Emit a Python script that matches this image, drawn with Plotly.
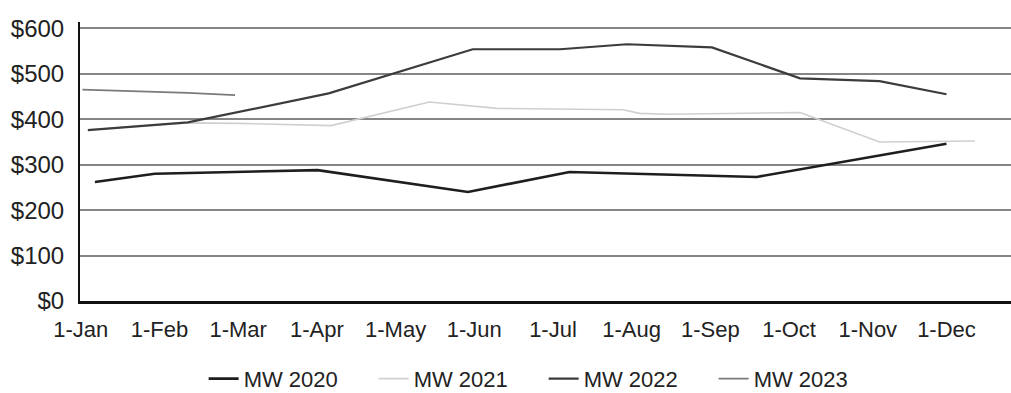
import plotly.graph_objects as go

# Month tick labels (category positions 0..11)
month_labels = ["1-Jan", "1-Feb", "1-Mar", "1-Apr", "1-May", "1-Jun",
                "1-Jul", "1-Aug", "1-Sep", "1-Oct", "1-Nov", "1-Dec"]

# Price tick values / labels
price_ticks = [0, 100, 200, 300, 400, 500, 600]
price_labels = ["$0", "$100", "$200", "$300", "$400", "$500", "$600"]

# Series: time in months since 1-Jan, price in $
mw2020_month = [0.18, 0.94, 3.01, 4.92, 6.21, 8.59, 11.0]
mw2020_price = [262, 280, 288, 240, 284, 273, 346]

mw2021_month = [0.09, 1.36, 2.0, 3.18, 4.43, 5.29, 6.89, 7.1, 7.48, 9.14, 10.15, 11.36]
mw2021_price = [377, 392, 391, 386, 438, 424, 421, 413, 411, 415, 350, 352]

mw2022_month = [0.09, 1.36, 3.15, 4.98, 6.09, 6.94, 8.02, 9.14, 10.15, 11.0]
mw2022_price = [376, 393, 457, 554, 554, 565, 558, 490, 484, 455]

mw2023_month = [0.02, 1.36, 1.96]
mw2023_price = [465, 458, 453]

series = [
    ("MW 2020", mw2020_month, mw2020_price, "#1e1e1e", 2.6),
    ("MW 2021", mw2021_month, mw2021_price, "#cfcfcf", 1.6),
    ("MW 2022", mw2022_month, mw2022_price, "#3c3c3c", 2.2),
    ("MW 2023", mw2023_month, mw2023_price, "#7a7a7a", 1.8),
]

FONT = "Liberation Sans, Arial, sans-serif"

fig = go.Figure()
for name, xs, ys, color, w in series:
    fig.add_trace(go.Scatter(x=xs, y=ys, mode="lines", name=name,
                             line=dict(color=color, width=w)))

fig.update_layout(
    width=1011, height=393,
    margin=dict(l=80, r=0, t=22, b=92, autoexpand=False),
    paper_bgcolor="white", plot_bgcolor="white",
    font=dict(family=FONT, size=22, color="#222222"),
    showlegend=True,
    legend=dict(orientation="h", x=0.498, xanchor="center", y=-0.279, yanchor="middle",
                font=dict(family=FONT, size=22, color="#222222"),
                entrywidth=125, itemwidth=30, traceorder="normal"),
)
fig.update_xaxes(
    range=[-0.01, 11.82], tickmode="array",
    tickvals=list(range(len(month_labels))), ticktext=month_labels,
    showgrid=False, zeroline=False, showline=True, linecolor="#111111", linewidth=3,
    ticks="", ticklabelstandoff=7, tickfont=dict(size=22, family=FONT, color="#222222"),
)
fig.update_yaxes(
    range=[0, 614], tickmode="array", tickvals=price_ticks, ticktext=price_labels,
    showgrid=True, gridcolor="#858585", gridwidth=2, zeroline=False,
    showline=True, linecolor="#111111", linewidth=2,
    ticks="", ticklabelstandoff=9, tickfont=dict(size=24, family=FONT, color="#222222"),
)

fig.write_html("out.html")
